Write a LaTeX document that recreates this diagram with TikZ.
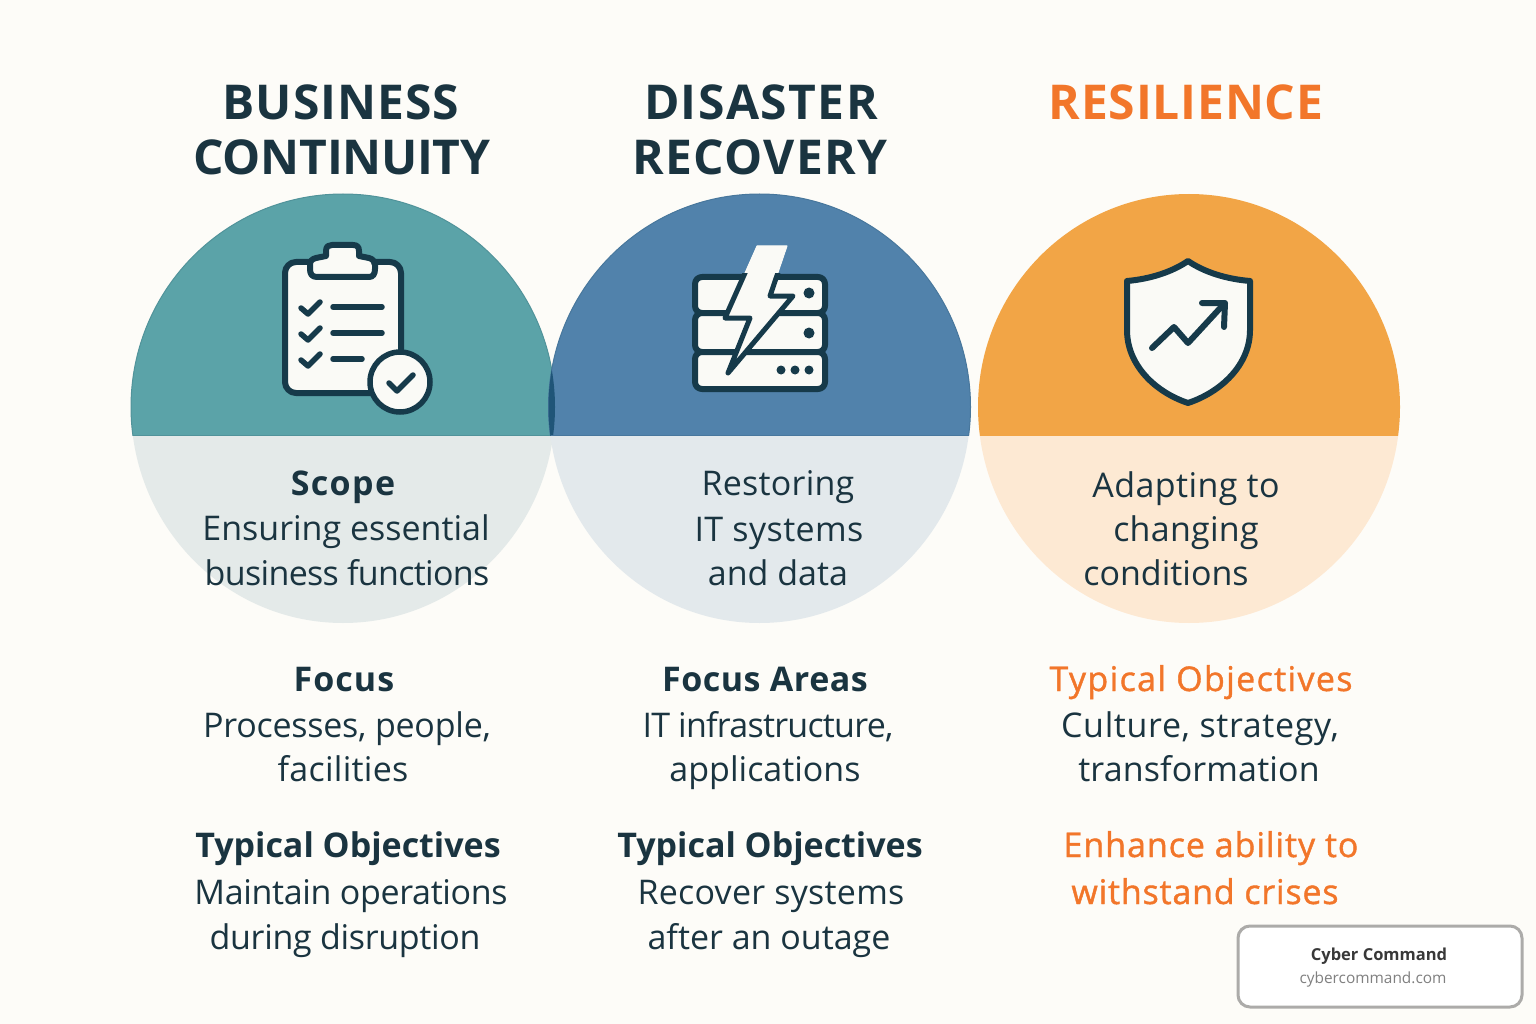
\documentclass[tikz,border=0pt]{standalone}
\usepackage{fontspec}
\setmainfont{Open Sans}
\newcommand{\ls}[1]{\addfontfeatures{LetterSpace=#1}}
\newcommand{\semi}[1]{\addfontfeatures{FakeBold=1.2,LetterSpace=#1}}
\definecolor{bgc}{HTML}{FDFCF8}
\definecolor{tealc}{HTML}{5BA3A8}
\definecolor{bluec}{HTML}{5182AB}
\definecolor{orc}{HTML}{F2A546}
\definecolor{teall}{HTML}{E4EAE9}
\definecolor{bluel}{HTML}{E3E9EC}
\definecolor{orl}{HTML}{FDE9D3}
\definecolor{ink}{HTML}{163A4A}
\definecolor{lens}{HTML}{1F5578}
\definecolor{txt}{HTML}{1A3440}
\definecolor{orange2}{HTML}{F2762A}
\definecolor{paper}{HTML}{FAFAF6}
\tikzset{
  base/.style={inner sep=0pt,anchor=base,text=txt},
  title/.style={base,font=\fontsize{48}{48}\selectfont\bfseries},
  body/.style={base,font=\fontsize{34}{34}\selectfont},
  head/.style={base,font=\fontsize{34}{34}\selectfont\bfseries},
  oh/.style={text=orange2},
  icon/.style={draw=ink,line width=6pt,line join=round,line cap=round,fill=paper},
  stroke/.style={draw=ink,line width=6pt,line join=round,line cap=round},
  thin/.style={draw=ink,line width=5.5pt,line join=round,line cap=round},
}
\begin{document}
\begin{tikzpicture}[x=1pt,y=-1pt]
\useasboundingbox (0,0) rectangle (1536,1024);
\fill[bgc] (0,0) rectangle (1536,1024);
% lower halves
\begin{scope}
\clip (0,435) rectangle (1536,1024);
\fill[teall] (343,407) ellipse[x radius=212,y radius=216];
\fill[bluel] (759.5,407) ellipse[x radius=211,y radius=216];
\fill[orl] (1189,407) ellipse[x radius=211,y radius=216];
\end{scope}
% upper halves
\begin{scope}
\clip (0,0) rectangle (1536,435);
\fill[tealc] (343,407) ellipse[x radius=212,y radius=213];
\draw[draw=tealc!85!ink,line width=1pt] (343,407) ellipse[x radius=212,y radius=213];
\fill[bluec] (759.5,407) ellipse[x radius=211,y radius=213];
\draw[draw=bluec!85!ink,line width=1pt] (759.5,407) ellipse[x radius=211,y radius=213];
\fill[orc] (1189,407) ellipse[x radius=211,y radius=213];
\begin{scope}
\clip (343,407) ellipse[x radius=212,y radius=213];
\fill[lens] (759.5,407) ellipse[x radius=211,y radius=213];
\end{scope}
\end{scope}
\draw[tealc!85!ink,line width=1pt] (133,435) -- (550,435);
\draw[bluec!85!ink,line width=1pt] (551,435) -- (969,435);
% clipboard
\draw[icon] (296,262) -- (390,262) arc[start angle=-90,end angle=0,radius=11] -- (401,382) arc[start angle=0,end angle=90,radius=11] -- (296,393) arc[start angle=90,end angle=180,radius=11] -- (285,273) arc[start angle=180,end angle=270,radius=11] -- cycle;
\draw[icon] (316,258) -- (326,256) -- (326,251) .. controls (326,246) and (329,245) .. (332,245) -- (353,245) .. controls (357,245) and (359,247) .. (359,251) -- (359,256) -- (369,258) .. controls (373,259) and (375,262) .. (375,265) -- (375,269) .. controls (375,274) and (373,277) .. (369,277) -- (317,277) .. controls (312,277) and (310,274) .. (310,269) -- (310,265) .. controls (310,261) and (312,259) .. (316,258) -- cycle;
\foreach \yy/\xe in {307/383,333/383,359/363}{
  \draw[thin] (301,\yy+1) -- (308,\yy+7) -- (320,\yy-5);
  \draw[thin] (333,\yy) -- (\xe-1,\yy);
}
\draw[draw=ink,fill=paper,line width=5.5pt] (400,382) circle[radius=30];
\draw[thin] (389,383) -- (397,391) -- (413,375);
% server
\foreach \ya/\yb in {277/313,313/352,352/389}{
  \draw[icon] (702,\ya) -- (818,\ya) arc[start angle=-90,end angle=0,radius=7] -- (825,\yb-7) arc[start angle=0,end angle=90,radius=7] -- (702,\yb) arc[start angle=90,end angle=180,radius=7] -- (695,\ya+7) arc[start angle=180,end angle=270,radius=7] -- cycle;
}
\fill[ink] (809,293) circle[radius=5.5] (809,333) circle[radius=5.5];
\fill[ink] (781,370) circle[radius=4.5] (795,370) circle[radius=4.5] (809,370) circle[radius=4.5];
\fill[paper,draw=paper,line width=1pt,line join=round] (757,246) -- (787,246) -- (770,296) -- (793,296) -- (728,373) -- (750,318) -- (725,318) -- cycle;
\begin{scope}
\clip (680,274) rectangle (840,400);
\draw[stroke,line width=5pt] (757,246) -- (725,318) -- (750,318) -- (728,373) -- (793,296) -- (770,296) -- (787,246);
\end{scope}
% shield
\draw[icon,line width=6pt] (1188,261) .. controls (1172,272) and (1150,279) .. (1127,281) -- (1127,330) .. controls (1127,365) and (1155,392) .. (1188,403) .. controls (1221,392) and (1250,365) .. (1250,330) -- (1250,281) .. controls (1226,279) and (1204,272) .. (1188,261) -- cycle;
\draw[stroke] (1152,348) -- (1174,327) -- (1188,343) -- (1223,305);
\draw[stroke] (1202,303) -- (1225,303) -- (1224,327);
% titles
\node[title] (t1) at (341,120) {\ls{2.0}BUSINESS};
\node[title] (t2) at (342,175) {\ls{-0.6}CONTINUITY};
\node[title] (t3) at (761,120) {\ls{3.0}DISASTER};
\node[title] (t4) at (760,175) {\ls{2.5}RECOVERY};
\node[title,oh] (t5) at (1186,120) {\ls{1.6}RESILIENCE};
% column 1
\node[head] (a1) at (343,495) {\ls{4}Scope};
\node[body] (a2) at (346,540) {Ensuring essential};
\node[body] (a3) at (347,585) {\ls{-2}business functions};
\node[head] (a4) at (344,691) {\ls{3}Focus};
\node[body] (a5) at (347,737) {\ls{-0.7}Processes, people,};
\node[body] (a6) at (343,781) {\ls{0.8}facilities};
\node[head] (a7) at (348,857) {Typical Objectives};
\node[body] (a8) at (351,904) {\ls{-1}Maintain operations};
\node[body] (a9) at (345,949) {\ls{-1}during disruption};
% column 2
\node[body] (b1) at (778,495) {\ls{0.7}Restoring};
\node[body] (b2) at (779,541) {\ls{1.2}IT systems};
\node[body] (b3) at (778,585) {and data};
\node[head] (b4) at (765,691) {\ls{1.5}Focus Areas};
\node[body] (b5) at (768,737) {\ls{-2.2}IT infrastructure,};
\node[body] (b6) at (765,781) {applications};
\node[head] (b7) at (770,857) {Typical Objectives};
\node[body] (b8) at (771,904) {\ls{0.8}Recover systems};
\node[body] (b9) at (769,949) {after an outage};
% column 3
\node[body] (c1) at (1186,497) {\ls{1.2}Adapting to};
\node[body] (c2) at (1186,541) {\ls{0.8}changing};
\node[body] (c3) at (1166,585) {conditions};
\node[body,oh] (c4) at (1201,691) {\semi{4}Typical Objectives};
\node[body] (c5) at (1200,737) {\ls{1.9}Culture, strategy,};
\node[body] (c6) at (1199,781) {\ls{0.4}transformation};
\node[body,oh] (c7) at (1211,857) {\semi{2.8}Enhance ability to};
\node[body,oh] (c8) at (1205,904) {\semi{2.4}withstand crises};
% badge
\draw[fill=white,draw=black!32!bgc,line width=3pt,rounded corners=12pt] (1238,926) rectangle (1522,1007);
\node[base,text=black!78,font=\fontsize{16.5}{16.5}\selectfont\bfseries] (d1) at (1379,960) {Cyber Command};
\node[base,text=black!50,font=\fontsize{15.4}{15.4}\selectfont] (d2) at (1373,983) {cybercommand.com};
\end{tikzpicture}
\end{document}
